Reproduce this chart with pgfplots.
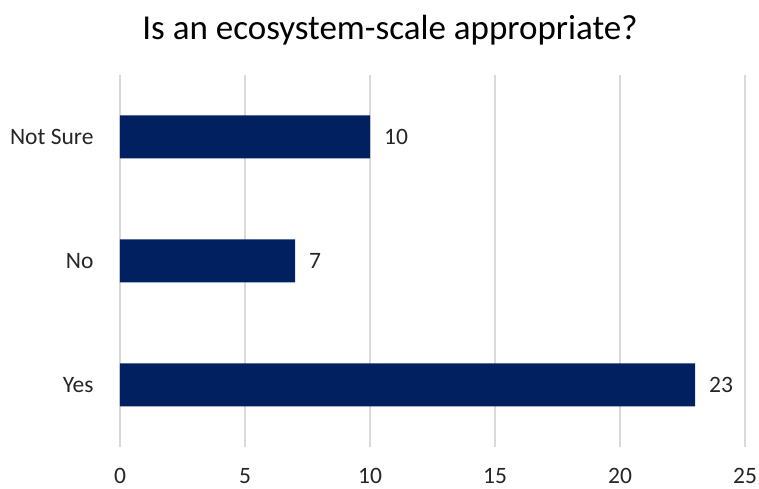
\documentclass[border=0pt]{standalone}
\usepackage{pgfplots}
\pgfplotsset{compat=1.18}
\usepackage{fontspec}
\setmainfont{Carlito}
\definecolor{navy}{HTML}{002060}
\definecolor{gridc}{HTML}{D9D9D9}
\definecolor{txt}{HTML}{262626}
\begin{document}
\begin{tikzpicture}
\useasboundingbox (-120pt,-42pt) rectangle (639pt,447pt);
\begin{axis}[
 at={(0,0)}, anchor=south west,
 scale only axis, width=625pt, height=372pt,
 xbar, bar width=43pt,
 xmin=0, xmax=25, ymin=-0.5, ymax=2.5,
 xtick={0,5,10,15,20,25}, ytick={0,1,2}, yticklabels={Yes,No,Not Sure},
 axis line style={draw=none}, tick style={draw=none},
 xmajorgrids, major grid style={gridc, line width=1.5pt},
 /pgf/number format/assume math mode=true,
 ticklabel style={font=\fontsize{23.5}{26}\selectfont, text=txt, inner sep=0pt},
 xticklabel style={anchor=north, yshift=-21pt},
 yticklabel style={anchor=east, xshift=-22pt},
 nodes near coords,
 every node near coord/.append style={font=\fontsize{23.5}{26}\selectfont, text=txt, inner sep=0pt, anchor=west, xshift=14pt},
]
\addplot[fill=navy, draw=none] coordinates {(23,0) (7,1) (10,2)};
\end{axis}
\node[font=\fontsize{35}{40}\selectfont, text=black] at (270pt,417pt) {Is an ecosystem-scale appropriate?};
\end{tikzpicture}
\end{document}
